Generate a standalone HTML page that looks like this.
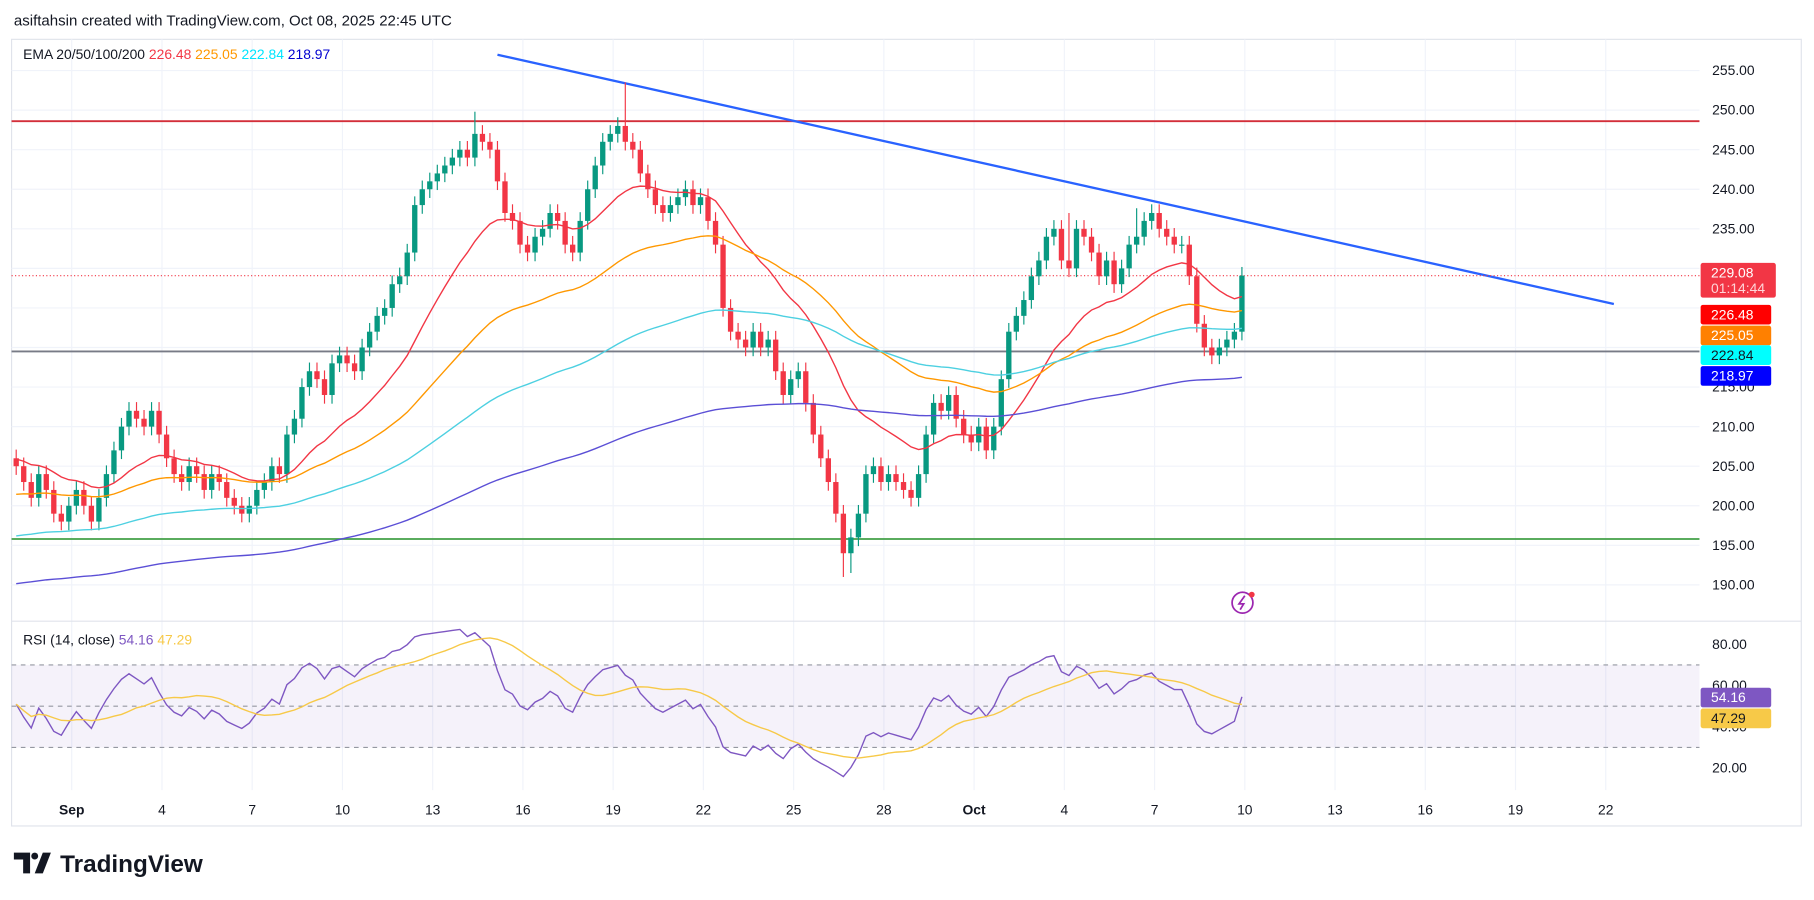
<!DOCTYPE html>
<html><head><meta charset="utf-8"><style>
html,body{margin:0;padding:0;background:#fff;width:1814px;height:900px;overflow:hidden}
svg{display:block;font-family:"Liberation Sans",sans-serif}
</style></head><body>
<svg id="chart" width="1814" height="900" viewBox="0 0 1568 778" preserveAspectRatio="none" xmlns="http://www.w3.org/2000/svg">
<text x="12" y="22" font-size="13" fill="#131722">asiftahsin created with TradingView.com, Oct 08, 2025 22:45 UTC</text>
<rect x="10" y="34" width="1547" height="680" fill="#fff" stroke="#e0e3eb"/>
<g id="grid"></g>
<g id="lines"></g>
<g id="candles"></g>
<g id="emas"></g>
<g id="rsi"></g>
<g id="labels"></g>
<text x="20" y="51" font-size="12"><tspan fill="#131722">EMA 20/50/100/200 </tspan><tspan fill="#f23645"> 226.48 </tspan><tspan fill="#ff9800"> 225.05 </tspan><tspan fill="#00e5ff"> 222.84 </tspan><tspan fill="#0000d0"> 218.97</tspan></text>
<text x="20" y="557" font-size="12"><tspan fill="#131722">RSI (14, close) </tspan><tspan fill="#7e57c2"> 54.16 </tspan><tspan fill="#f7c948"> 47.29</tspan></text>
<g><circle cx="1074" cy="521" r="9" fill="none" stroke="#9c27b0" stroke-width="1.5"/><path d="M1076 515 L1071 522 L1075 522 L1072 527" stroke="#9c27b0" stroke-width="1.5" fill="none"/><circle cx="1082" cy="514" r="2.5" fill="#f23645"/></g>
<g><path d="M12 737 H26 V755 H20 V743 H12 Z" fill="#131722"/><circle cx="30" cy="740" r="3" fill="#131722"/><path d="M30 755 L37 737 H44 L37 755 Z" fill="#131722"/><text x="52" y="754" font-size="21" font-weight="bold" fill="#131722">TradingView</text></g>
</svg>
<script>
const closes=[205,203,201,204,202,199,198,200,202,200,198,201,204,207,210,212,211,210,212,209,206,204,203,205,204,202,204,203,201,200,199,200,202,203,205,204,209,211,215,217,216,214,218,219,218,217,220,222,224,225,228,229,232,238,240,241,242,243,244,245,244,247,246,245,241,237,236,233,232,234,235,237,236,233,232,236,240,243,246,247,248,246,245,242,240,238,237,238,239,240,238,239,236,233,225,222,221,220,222,220,221,217,214,216,217,213,209,206,203,199,194,196,199,204,205,203,204,203,202,201,204,209,213,212,214,211,209,208,210,207,210,216,222,224,226,229,231,234,235,231,230,235,234,232,229,231,228,230,233,234,236,237,235,234,233,233,229,223,220,219,220,221,222,229.08];
const firstOpen=206;
const highSpikes={61:249.8,81:253.5,140:237,149:237.6,110:191,111:191.5};
const emaPeriods=[20,50,100,200];
const emaSeeds=[206,201.3,196,190];
const emaColors=["#f23645","#ff9800","#4dd0e1","#5b4fd6"];
const priceTicks=[255,250,245,240,235,230,225,220,215,210,205,200,195,190];
const rsiTicks=[80,60,40,20];
const dayLabels=["Sep","4","7","10","13","16","19","22","25","28","Oct","4","7","10","13","16","19","22"];
const hLevels=[248.6,219.5,195.8];
const hColors=["#d32f3a","#787b86","#43a047"];
const trend=[[430,257],[1395,225.5]];
const NS="http://www.w3.org/2000/svg";
const PR=1469;
const x=i=>14+i*6.5;
const y=p=>61+(255-p)*6.84;
const ry=v=>557+(80-v)*1.783;
function mk(t,a,parent){const e=document.createElementNS(NS,t);for(const k in a)e.setAttribute(k,a[k]);document.getElementById(parent).appendChild(e);return e;}
priceTicks.forEach(p=>{const l=mk('line',{x1:10,x2:PR,y1:y(p),y2:y(p),stroke:'#f0f3fa'},'grid');


if(p!==230&&p!==225&&p!==220){const t=mk('text',{x:1480,y:y(p)+4,'font-size':12,fill:'#131722'},'grid');t.textContent=p.toFixed(2);

}});
rsiTicks.forEach(v=>{const t=mk('text',{x:1480,y:ry(v)+4,'font-size':12,fill:'#131722'},'grid');t.textContent=v.toFixed(2);

});
dayLabels.forEach((d,k)=>{const xx=62+k*78;const l=mk('line',{x1:xx,x2:xx,y1:34,y2:683,stroke:'#f0f3fa'},'grid');


const t=mk('text',{x:xx,y:704,'font-size':12,fill:'#131722','text-anchor':'middle','font-weight':(d==='Sep'||d==='Oct')?'bold':'normal'},'grid');t.textContent=d;

});
mk('line',{x1:10,x2:1557,y1:537,y2:537,stroke:'#e0e3eb'},'grid');
hLevels.forEach((p,k)=>{const l=mk('line',{x1:10,x2:PR,y1:y(p),y2:y(p),stroke:hColors[k],'stroke-width':1.6},'lines');

});
const tl=mk('line',{x1:trend[0][0],y1:y(trend[0][1]),x2:trend[1][0],y2:y(trend[1][1]),stroke:'#2962ff','stroke-width':2},'lines');


const last=closes[closes.length-1];
const pl=mk('line',{x1:10,x2:PR,y1:y(last),y2:y(last),stroke:'#f23645','stroke-dasharray':'1 2'},'lines');


closes.forEach((c,i)=>{const o=i?closes[i-1]:firstOpen;const up=c>=o;const col=up?'#089981':'#f23645';
let h=Math.max(o,c)+1.1,l=Math.min(o,c)-1.1;if(highSpikes[i]){if(highSpikes[i]>h)h=highSpikes[i];else l=highSpikes[i];}
const w=mk('line',{x1:x(i),x2:x(i),y1:y(h),y2:y(l),stroke:col},'candles');


const b=mk('rect',{x:x(i)-2.3,width:4.6,y:y(Math.max(o,c)),height:Math.max(1,Math.abs(y(o)-y(c))),fill:col},'candles');

});
emaPeriods.forEach((n,k)=>{let e=emaSeeds[k];const a=2/(n+1);const pts=[];closes.forEach((c,i)=>{e=e+a*(c-e);pts.push(x(i)+','+y(e));});
const p=mk('polyline',{points:pts.join(' '),fill:'none',stroke:emaColors[k],'stroke-width':1.2},'emas');

});
mk('rect',{x:10,y:ry(70),width:PR-10,height:ry(30)-ry(70),fill:'#7e57c2','fill-opacity':0.08},'rsi');
[70,50,30].forEach(v=>{const l=mk('line',{x1:10,x2:PR,y1:ry(v),y2:ry(v),stroke:'#9598a1','stroke-dasharray':'4 4'},'rsi');

});
let ag=0.6,al=0.5;const rsi=[];closes.forEach((c,i)=>{const o=i?closes[i-1]:firstOpen;const d=c-o;ag=(ag*13+Math.max(d,0))/14;al=(al*13+Math.max(-d,0))/14;rsi.push(100-100/(1+ag/al));});
const rp=mk('polyline',{points:rsi.map((v,i)=>x(i)+','+ry(v)).join(' '),fill:'none',stroke:'#7e57c2','stroke-width':1.2},'rsi');


const ma=rsi.map((v,i)=>{const s=rsi.slice(Math.max(0,i-13),i+1);return s.reduce((a,b)=>a+b,0)/s.length;});
const mp=mk('polyline',{points:ma.map((v,i)=>x(i)+','+ry(v)).join(' '),fill:'none',stroke:'#f7c948','stroke-width':1.2},'rsi');


const tags=[[y(last)-8,30,'#f23645','#fff','229.08','01:14:44'],[272,17,'#ff0000','#fff','226.48'],[290,17,'#ff8000','#fff','225.05'],[307,17,'#00ffff','#131722','222.84'],[325,17,'#0000ff','#fff','218.97'],[603,17,'#7e57c2','#fff','54.16'],[621,17,'#f7c948','#131722','47.29']];
tags.forEach(t=>{const top=t[5]?t[0]-3:t[0]-8.5;const r=mk('rect',{x:1470,y:top,width:t[5]?65:61,height:t[1],fill:t[2],rx:2},'labels');


const tx=mk('text',{x:1479,y:top+12.5,'font-size':12,fill:t[3]},'labels');tx.textContent=t[4];


if(t[5]){const t2=mk('text',{x:1479,y:top+26,'font-size':12,fill:'#ffd5d8'},'labels');t2.textContent=t[5];

}});
</script>
</body></html>
